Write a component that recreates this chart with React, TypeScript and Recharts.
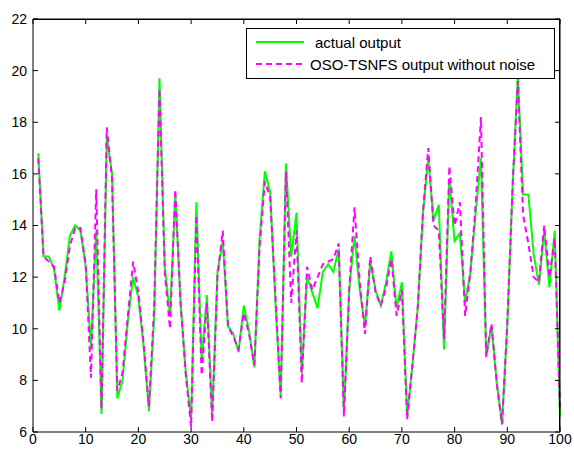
import React from 'react';
import { LineChart, Line, XAxis, YAxis, Legend } from 'recharts';

// values, samples 1..100
const actualOutput = [
  16.8, 12.8, 12.8, 12.3, 10.7, 12.0, 13.6, 14.0, 13.8, 12.4,
  9.3, 13.8, 6.7, 17.4, 16.0, 7.3, 8.0, 10.3, 12.0, 11.2,
  9.3, 6.8, 10.5, 19.7, 12.4, 10.5, 15.2, 11.0, 8.3, 6.5,
  14.9, 8.8, 11.3, 6.6, 12.2, 13.4, 10.1, 9.8, 9.1, 10.9,
  9.9, 8.5, 13.5, 16.1, 15.3, 11.0, 7.4, 16.4, 12.8, 14.5,
  8.3, 12.0, 11.4, 10.8, 12.2, 12.5, 12.2, 13.1, 6.8, 11.5,
  13.6, 11.5, 10.1, 12.6, 11.5, 10.9, 11.8, 13.0, 10.8, 11.8,
  6.6, 8.6, 10.8, 14.5, 16.6, 14.2, 14.8, 9.2, 15.8, 13.4,
  13.7, 11.0, 12.2, 14.5, 16.6, 9.0, 10.1, 7.9, 6.3, 10.2,
  15.5, 19.8, 15.2, 15.2, 12.9, 11.7, 13.8, 11.6, 13.8, 6.6,
];

const modelOutput = [
  16.6, 12.8, 12.6, 12.4, 11.0, 11.8, 13.2, 13.9, 13.9, 12.5,
  8.1, 15.4, 6.9, 17.8, 15.8, 7.6, 8.3, 10.5, 12.6, 11.4,
  9.4, 7.0, 10.9, 19.3, 12.2, 10.0, 15.4, 11.0, 8.2, 6.2,
  14.4, 8.2, 11.0, 6.4, 12.0, 13.8, 10.1, 9.7, 9.2, 10.6,
  9.8, 8.6, 13.2, 15.7, 15.1, 11.3, 7.3, 16.1, 11.0, 13.8,
  7.9, 12.4, 11.5, 12.0, 12.5, 12.6, 12.7, 13.3, 6.6, 11.5,
  14.7, 11.8, 9.8, 12.8, 11.4, 10.9, 11.6, 12.7, 10.5, 11.5,
  6.5, 8.6, 10.8, 14.5, 17.0, 14.0, 13.8, 9.6, 16.3, 14.0,
  14.9, 10.5, 12.2, 14.8, 18.2, 8.9, 10.2, 7.9, 6.3, 10.2,
  15.5, 19.6, 14.4, 13.3, 12.0, 11.8, 14.0, 12.0, 13.5, 6.9,
];

const xTicks = [0, 10, 20, 30, 40, 50, 60, 70, 80, 90, 100];
const yTicks = [6, 8, 10, 12, 14, 16, 18, 20, 22];

const data = actualOutput.map((v, i) => ({
  sample: i + 1,
  actual: v,
  model: modelOutput[i],
}));

const font = 'Arial, "Liberation Sans", sans-serif';
const tickStyle = { fill: '#000', fontSize: 14, fontFamily: font };
const noLabel = () => '';

function LegendBox() {
  return (
    <div
      style={{
        position: 'relative',
        width: 307,
        height: 49,
        border: '1px solid #000',
        background: '#fff',
        fontFamily: font,
        fontSize: 15,
        color: '#000',
        lineHeight: '17px',
      }}
    >
      <svg width={60} height={49} style={{ position: 'absolute', left: 0, top: 0 }}>
        <line x1={9} x2={57} y1={13} y2={13} stroke="#00ff00" strokeWidth={2} />
        <line x1={9} x2={57} y1={35} y2={35} stroke="#ff00ff" strokeWidth={2} strokeDasharray="6 4" />
      </svg>
      <span style={{ position: 'absolute', left: 68, top: 5, whiteSpace: 'nowrap' }}>actual output</span>
      <span style={{ position: 'absolute', left: 63, top: 27, whiteSpace: 'nowrap' }}>
        OSO-TSNFS output without noise
      </span>
    </div>
  );
}

export default function App() {
  return (
    <div style={{ position: 'absolute', left: 0, top: 0, width: 574, height: 453, background: '#fff' }}>
      <LineChart width={574} height={453} data={data} margin={{ top: 14, right: 9, bottom: 0, left: 0 }}>
        <XAxis
          xAxisId="bottom"
          dataKey="sample"
          type="number"
          domain={[0, 100]}
          ticks={xTicks}
          interval={0}
          height={21}
          tickSize={-5}
          tickMargin={7}
          axisLine={{ stroke: '#000' }}
          tickLine={{ stroke: '#000' }}
          tick={tickStyle}
        />
        <XAxis
          xAxisId="top"
          orientation="top"
          dataKey="sample"
          type="number"
          domain={[0, 100]}
          ticks={xTicks}
          interval={0}
          height={5}
          tickSize={-5}
          tickFormatter={noLabel}
          axisLine={{ stroke: '#000' }}
          tickLine={{ stroke: '#000' }}
          tick={tickStyle}
        />
        <YAxis
          yAxisId="left"
          type="number"
          domain={[6, 22]}
          ticks={yTicks}
          interval={0}
          width={33}
          tickSize={-5}
          tickMargin={11}
          axisLine={{ stroke: '#000' }}
          tickLine={{ stroke: '#000' }}
          tick={tickStyle}
          allowDataOverflow
        />
        <YAxis
          yAxisId="right"
          orientation="right"
          type="number"
          domain={[6, 22]}
          ticks={yTicks}
          interval={0}
          width={5}
          tickSize={-5}
          tickFormatter={noLabel}
          axisLine={{ stroke: '#000' }}
          tickLine={{ stroke: '#000' }}
          tick={tickStyle}
          allowDataOverflow
        />
        <Legend
          verticalAlign="middle"
          align="center"
          content={() => <LegendBox />}
          wrapperStyle={{ position: 'absolute', left: 246, top: 28, width: 309, height: 51 }}
        />
        <Line
          xAxisId="bottom"
          yAxisId="left"
          type="linear"
          dataKey="actual"
          stroke="#00ff00"
          strokeWidth={2}
          dot={false}
          isAnimationActive={false}
        />
        <Line
          xAxisId="top"
          yAxisId="right"
          type="linear"
          dataKey="model"
          stroke="#ff00ff"
          strokeWidth={2}
          strokeDasharray="6 4"
          dot={false}
          isAnimationActive={false}
        />
      </LineChart>
      {/* plot box outline, MATLAB style */}
      <div
        style={{
          position: 'absolute',
          left: 33,
          top: 19,
          width: 527,
          height: 413,
          boxSizing: 'border-box',
          borderTop: '1px solid #000',
          borderRight: '1px solid #000',
          pointerEvents: 'none',
        }}
      />
    </div>
  );
}
